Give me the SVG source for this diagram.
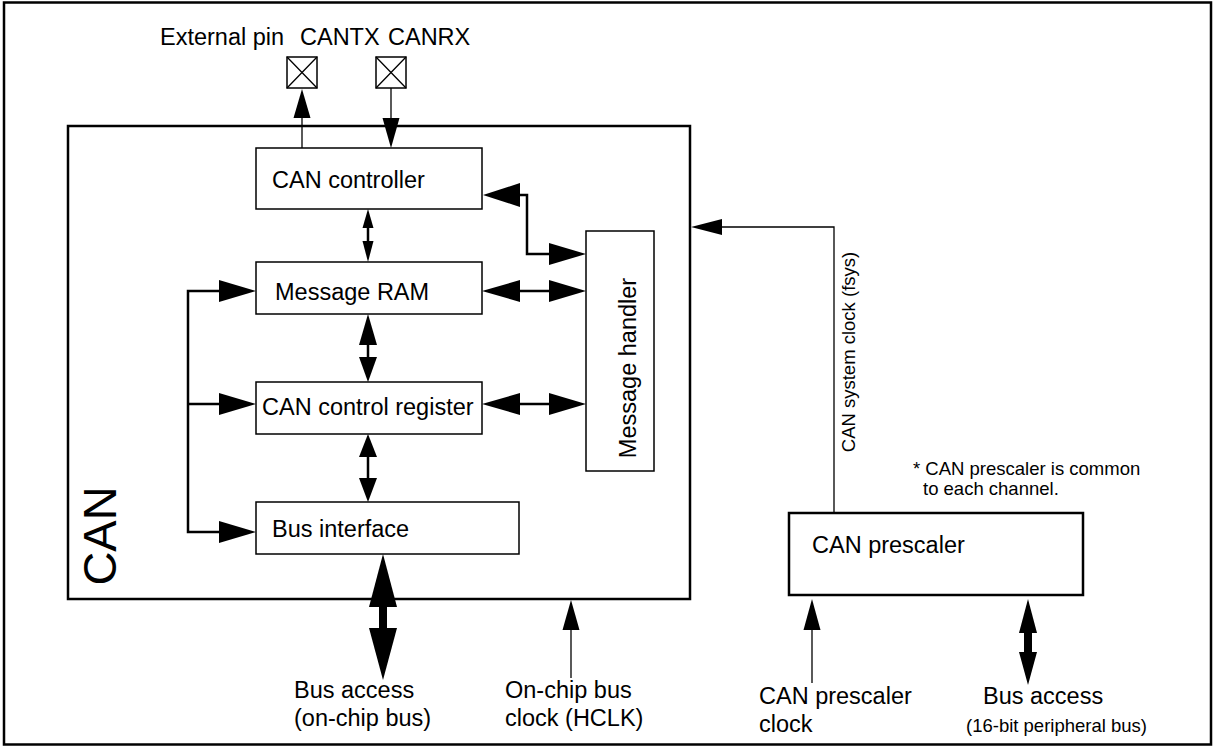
<svg xmlns="http://www.w3.org/2000/svg" width="1213" height="747" viewBox="0 0 1213 747">
<style>
.box{fill:#fff;stroke:#000;stroke-width:1.5}
.thick{fill:#fff;stroke:#000;stroke-width:2.5}
.ln{fill:none;stroke:#000;stroke-width:1.3}
.bl{fill:none;stroke:#000;stroke-width:2.5}
.hd{fill:#000;stroke:none}
.t{font-family:"Liberation Sans",Arial,Helvetica,sans-serif;font-size:23.5px;fill:#000}
.s{font-family:"Liberation Sans",Arial,Helvetica,sans-serif;font-size:18.5px;fill:#000}
.big{font-family:"Liberation Sans",Arial,Helvetica,sans-serif;font-size:47px;fill:#000}
</style>
<rect width="1213" height="747" fill="#fff"/>
<rect x="4" y="2.5" width="1207" height="742" fill="none" stroke="#000" stroke-width="2.5"/>

<g id="pins">
<text class="t" x="160" y="45">External pin</text>
<text class="t" x="300" y="45">CANTX</text>
<text class="t" x="388" y="45">CANRX</text>
<g id="pin-cantx"><rect class="box" x="287" y="57" width="30" height="31"/><path class="ln" d="M287,57 L317,88 M317,57 L287,88"/></g>
<g id="pin-canrx"><rect class="box" x="376" y="57" width="30" height="31"/><path class="ln" d="M376,57 L406,88 M406,57 L376,88"/></g>
</g>

<g id="can-block">
<rect class="thick" x="68" y="126" width="622" height="473"/>
<text class="big" transform="translate(116,536) rotate(-90)" text-anchor="middle">CAN</text>
</g>

<g id="can-controller"><rect class="box" x="256" y="148" width="226" height="61"/><text class="t" x="272" y="188">CAN controller</text></g>
<g id="message-ram"><rect class="box" x="256" y="262" width="226" height="52"/><text class="t" x="275" y="300">Message RAM</text></g>
<g id="can-control-register"><rect class="box" x="256" y="382" width="226" height="52"/><text class="t" x="262" y="415">CAN control register</text></g>
<g id="bus-interface"><rect class="box" x="256" y="502" width="263" height="52"/><text class="t" x="272" y="537">Bus interface</text></g>
<g id="message-handler"><rect class="box" x="586" y="231" width="68" height="240"/><text class="t" transform="translate(636,368) rotate(-90)" text-anchor="middle">Message handler</text></g>

<g id="can-prescaler"><rect class="thick" x="789" y="513" width="294" height="82"/><text class="t" x="812" y="553">CAN prescaler</text></g>

<g id="labels">
<text class="s" transform="translate(855,352) rotate(-90)" text-anchor="middle">CAN system clock (fsys)</text>
<text class="s" x="913" y="475">* CAN prescaler is common</text>
<text class="s" x="923" y="495">to each channel.</text>
<text class="t" x="294" y="698">Bus access</text>
<text class="t" x="294" y="726">(on-chip bus)</text>
<text class="t" x="505" y="698">On-chip bus</text>
<text class="t" x="505" y="726">clock (HCLK)</text>
<text class="t" x="759" y="704">CAN prescaler</text>
<text class="t" x="759" y="732">clock</text>
<text class="t" x="983" y="704">Bus access</text>
<text class="s" x="966" y="732">(16-bit peripheral bus)</text>
</g>

<g id="connectors">
<line class="ln" x1="302" y1="148" x2="302" y2="117"/>
<polygon class="hd" points="302,89 293.5,118 310.5,118"/>
<line class="ln" x1="391" y1="88" x2="391" y2="119"/>
<polygon class="hd" points="391,148 382.5,118 399.5,118"/>
<line class="bl" x1="368" y1="226" x2="368" y2="243"/>
<polygon class="hd" points="368,209 362.5,228 373.5,228"/>
<polygon class="hd" points="368,262 362.5,241 373.5,241"/>
<line class="bl" x1="368" y1="343" x2="368" y2="359"/>
<polygon class="hd" points="368,314 359,345 377,345"/>
<polygon class="hd" points="368,382 359,357 377,357"/>
<line class="bl" x1="368" y1="455" x2="368" y2="480"/>
<polygon class="hd" points="368,434 359,457 377,457"/>
<polygon class="hd" points="368,502 359,478 377,478"/>
<polygon class="hd" points="383,554 369,607 397,607"/>
<rect class="hd" x="379" y="605" width="8" height="25"/>
<polygon class="hd" points="383,680 369,628 397,628"/>
<path class="bl" d="M220,291 H188 V532 H220 M188,404 H220"/>
<polygon class="hd" points="256,291 219,280 219,302"/>
<polygon class="hd" points="256,404 219,393 219,415"/>
<polygon class="hd" points="256,532 219,521 219,543"/>
<line class="bl" x1="518" y1="291" x2="551" y2="291"/>
<polygon class="hd" points="482,291 520,280 520,302"/>
<polygon class="hd" points="586,291 549,280 549,302"/>
<line class="bl" x1="518" y1="404" x2="551" y2="404"/>
<polygon class="hd" points="482,404 520,393 520,415"/>
<polygon class="hd" points="586,404 549,393 549,415"/>
<path class="bl" d="M518,195 H527 V254 H551"/>
<polygon class="hd" points="483,195 520,183 520,207"/>
<polygon class="hd" points="586,254 549,243 549,265"/>
<path class="ln" d="M834,513 V227 H720"/>
<polygon class="hd" points="691,227 722,219 722,235"/>
<line class="ln" x1="571" y1="628" x2="571" y2="678"/>
<polygon class="hd" points="571,600 562.5,630 579.5,630"/>
<line class="ln" x1="812" y1="628" x2="812" y2="683"/>
<polygon class="hd" points="812,599 803.5,630 820.5,630"/>
<polygon class="hd" points="1028,599 1019,633 1037,633"/>
<rect class="hd" x="1024" y="631" width="8" height="23"/>
<polygon class="hd" points="1028,685 1019,652 1037,652"/>
</g>
</svg>
